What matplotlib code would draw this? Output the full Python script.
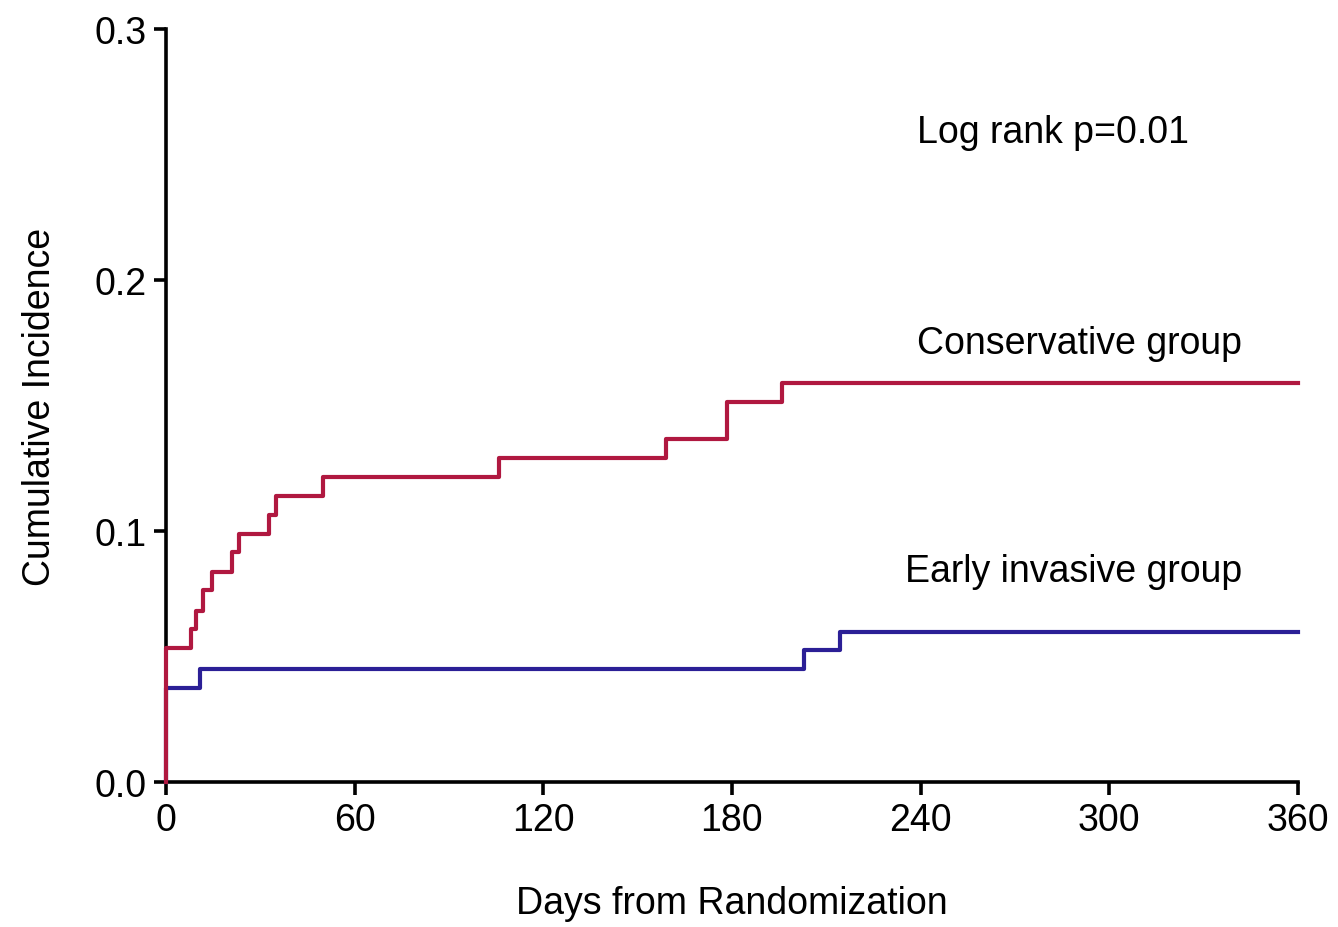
import matplotlib.pyplot as plt

# Kaplan-Meier style cumulative incidence
days_conservative = [0, 0, 8, 9.5, 11.7, 14.8, 21, 23.3, 32.8, 35, 50, 106, 159, 178.5, 196, 360]
inc_conservative = [0, 0.0536, 0.061, 0.068, 0.0765, 0.0835, 0.0915, 0.099, 0.1065, 0.114,
                    0.1215, 0.129, 0.1365, 0.1515, 0.159, 0.159]

days_invasive = [0, 0, 11, 203, 214.5, 360]
inc_invasive = [0, 0.0375, 0.045, 0.0525, 0.060, 0.060]

x_ticks = [0, 60, 120, 180, 240, 300, 360]
y_ticks = [0.0, 0.1, 0.2, 0.3]

plt.rcParams["font.family"] = ["Liberation Sans", "DejaVu Sans"]

fig = plt.figure(figsize=(13.38, 9.28), dpi=100)
ax = fig.add_axes([0.124, 0.156, 0.846, 0.812])

ax.step(days_invasive, inc_invasive, where="post", color="#2b1f96", lw=3,
        zorder=3, clip_on=False)
ax.step(days_conservative, inc_conservative, where="post", color="#b01840", lw=3,
        zorder=4, clip_on=False)

ax.set_xlim(0, 360)
ax.set_ylim(0, 0.3)
ax.set_xticks(x_ticks)
ax.set_yticks(y_ticks)
ax.set_yticklabels([f"{v:.1f}" for v in y_ticks])

for side in ["top", "right"]:
    ax.spines[side].set_visible(False)
for side in ["left", "bottom"]:
    ax.spines[side].set_linewidth(2.6)
ax.tick_params(width=2.6, length=9, labelsize=27, pad=5)

ax.set_xlabel("Days from Randomization", fontsize=27, labelpad=34)
ax.set_ylabel("Cumulative Incidence", fontsize=27, labelpad=26)

ax.text(239, 0.259, "Log rank p=0.01", fontsize=27, va="center")
ax.text(239, 0.175, "Conservative group", fontsize=27, va="center")
ax.text(235, 0.084, "Early invasive group", fontsize=27, va="center")

fig.savefig("out.png", dpi=100)
